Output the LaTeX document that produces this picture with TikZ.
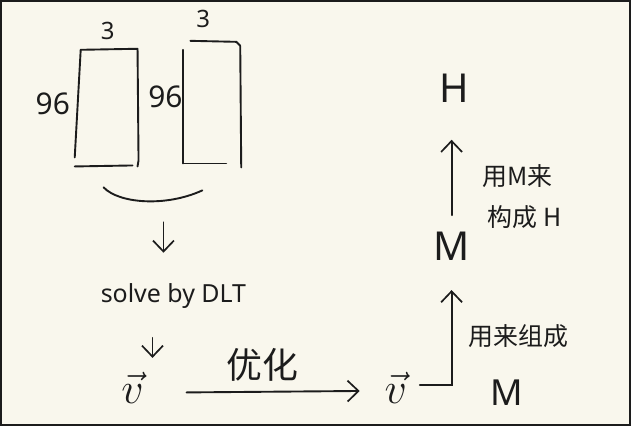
\RequirePackage{fix-cm}
\documentclass[tikz,border=0pt]{standalone}
\usepackage{fontspec}
\setmainfont{Noto Sans}
\newfontfamily\cjk{Noto Sans CJK SC}
\usetikzlibrary{arrows.meta}
\definecolor{paper}{RGB}{249,247,237}
\definecolor{ink}{RGB}{28,28,28}

\begin{document}
\begin{tikzpicture}[x=1pt, y=-1pt, line width=1.9pt, line cap=round,
    every path/.style={draw=ink},
    every node/.style={text=ink, inner sep=0pt},
    hand/.style={-{Straight Barb[length=11pt,width=21pt,line width=1.7pt]}},
    digits/.style={font=\fontsize{30}{30}\selectfont},
    small/.style={font=\fontsize{24}{24}\selectfont},
    big/.style={font=\fontsize{40}{40}\selectfont},
    vect/.style={font=\fontsize{44}{44}\selectfont},
    zh/.style={font=\cjk\fontsize{25}{30}\selectfont},
  ]
    \fill[paper, draw=none] (0,0) rectangle (631,425);
    \useasboundingbox (0,0) rectangle (631,425);

    % first block
    \coordinate (atl) at (80,49);
    \coordinate (atr) at (137,48);
    \coordinate (abl) at (74,166);
    \coordinate (abr) at (137,166);
    \draw (atl) -- (135,48) -- (atr);
    \draw (atl) -- (abl |- 0,157);
    \draw (abl) -- (132,165);
    \draw (atr) -- (138,160) -- (abr);
    \node[small]  (athree) at (107,30)  {3};
    \node[digits] (asize)  at (52,103)  {96};

    % second block
    \coordinate (btl) at (190,40);
    \coordinate (btr) at (240,45);
    \coordinate (bbl) at (183,163);
    \coordinate (bbr) at (241,167);
    \draw (btl) -- (236,41) -- (btr);
    \draw (183,49) -- (bbl);
    \draw (bbl) -- (226,163);
    \draw (btr) -- (bbr);
    \node[small]  (bthree) at (203,18)  {3};
    \node[digits] (bsize)  at (165,96)  {96};

    % both blocks together
    \coordinate (brl) at (103,187);
    \coordinate (brr) at (202,190);
    \draw (brl) .. controls (118,203) and (165,207) .. (brr);
    \coordinate (dn) at (163,222);

    \node[font=\fontsize{25}{25}\selectfont] (solve) at (173,296) {solve by DLT};
    \draw[hand, shorten >=30pt] (dn) -- (dn |- solve.north);

    \node[vect] (vinit) at (132,388) {$\vec{v}$};
    \node[vect] (vopt)  at (396,388) {$\vec{v}$};
    \coordinate (dv) at (152,338);
    \draw[hand] (dv) -- (152,358);

    \draw[hand, shorten <=42pt, shorten >=24pt] (vinit.east |- 0,393) -- (vopt.west |- 0,391);
    \node[zh, font=\cjk\fontsize{36}{36}\selectfont] (optim) at (262,365) {优化};

    % vector to M, M to H
    \node[big] (M) at (452,246) {M};
    \node[big] (H) at (455,88)  {H};
    \coordinate (up) at (452,290);
    \draw[hand, shorten <=12pt] (vopt.east |- 0,385) -| (up);
    \draw[hand, shorten <=16pt, shorten >=36pt] (M.north) -- (H.south -| M.north);

    \node[zh] (buildM) at (519,336) {用来组成};
    \node[font=\fontsize{36}{36}\selectfont] (Mlow) at (507,393) {M};
    \node[zh] (useM)   at (518,176) {用M来};
    \node[zh] (formH)  at (525,217) {构成 H};
  \end{tikzpicture}
\end{document}
